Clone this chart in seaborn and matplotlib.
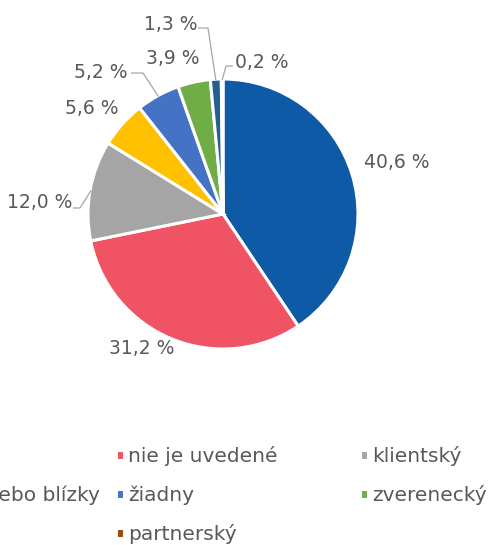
import numpy as np
import matplotlib
matplotlib.use("Agg")
import matplotlib.pyplot as plt
import seaborn as sns

# ---- data ----
categories = ["pracovný", "nie je uvedené", "klientský", "rodinný alebo blízky",
              "žiadny", "zverenecký", "obchodný", "partnerský"]
shares = [40.6, 31.2, 12.0, 5.6, 5.2, 3.9, 1.3, 0.2]
value_labels = ["40,6 %", "31,2 %", "12,0 %", "5,6 %", "5,2 %", "3,9 %", "1,3 %", "0,2 %"]
colors_hex = ["#0E5AA7", "#F05363", "#A5A5A5", "#FFC000", "#4472C4", "#70AD47", "#255E91", "#9E480E"]

sns.set_theme(style="white")
plt.rcParams["font.family"] = ["DejaVu Sans"]
TXT = "#595959"
LEAD = "#A6A6A6"

W, H = 490, 545
fig = plt.figure(figsize=(W / 100, H / 100), dpi=100)
ax = fig.add_axes([0, 0, 1, 1])

def py(y):  # pixel row -> data y (y-up)
    return H - y

cx, cy, R = 223, py(214), 135
palette = sns.color_palette(colors_hex)
wedges, _ = ax.pie(shares, colors=palette, startangle=90, counterclock=False,
                   center=(cx, cy), radius=R, frame=True,
                   wedgeprops=dict(edgecolor="white", linewidth=2.2))
ax.set_xlim(0, W)
ax.set_ylim(0, H)
ax.set_aspect("auto")
ax.axis("off")

# label layout (pixel coords): text center, optional leader start and elbow
label_pos = [(397, 163), (142, 349), (40, 202), (92, 108),
             (101, 72), (173, 59), (171, 25), (262, 62)]
leaders = {2: (73, 208, 80, 208), 4: (131, 73, 143, 73),
           6: (198, 28, 208, 28), 7: (233, 66, 226, 66)}

for i, (w, lab) in enumerate(zip(wedges, value_labels)):
    tx, ty = label_pos[i]
    ax.text(tx, py(ty), lab, ha="center", va="center", fontsize=13.5, color=TXT)
    if i in leaders:
        x0, y0, x1, y1 = leaders[i]
        mid = np.deg2rad((w.theta1 + w.theta2) / 2)
        ex, ey = cx + (R - 1) * np.cos(mid), cy + (R - 1) * np.sin(mid)
        ax.plot([x0, x1, ex], [py(y0), py(y1), ey], color=LEAD, lw=0.9,
                solid_capstyle="butt")

# legend: three columns at fixed positions (first column runs off the left edge)
cols = [[0, 3, 6], [1, 4, 7], [2, 5]]
col_x = [-114, 116, 360]
common = dict(frameon=False, fontsize=14.5, labelcolor=TXT, handlelength=0.4,
              handleheight=0.4, handletextpad=0.18, labelspacing=0.96,
              borderpad=0, borderaxespad=0)
top = 446
for c, x in zip(cols, col_x):
    fig.legend([wedges[i] for i in c], [categories[i] for i in c],
               loc="upper left", bbox_to_anchor=(x / W, 1 - top / H), **common)

fig.savefig("out.png", dpi=100)
